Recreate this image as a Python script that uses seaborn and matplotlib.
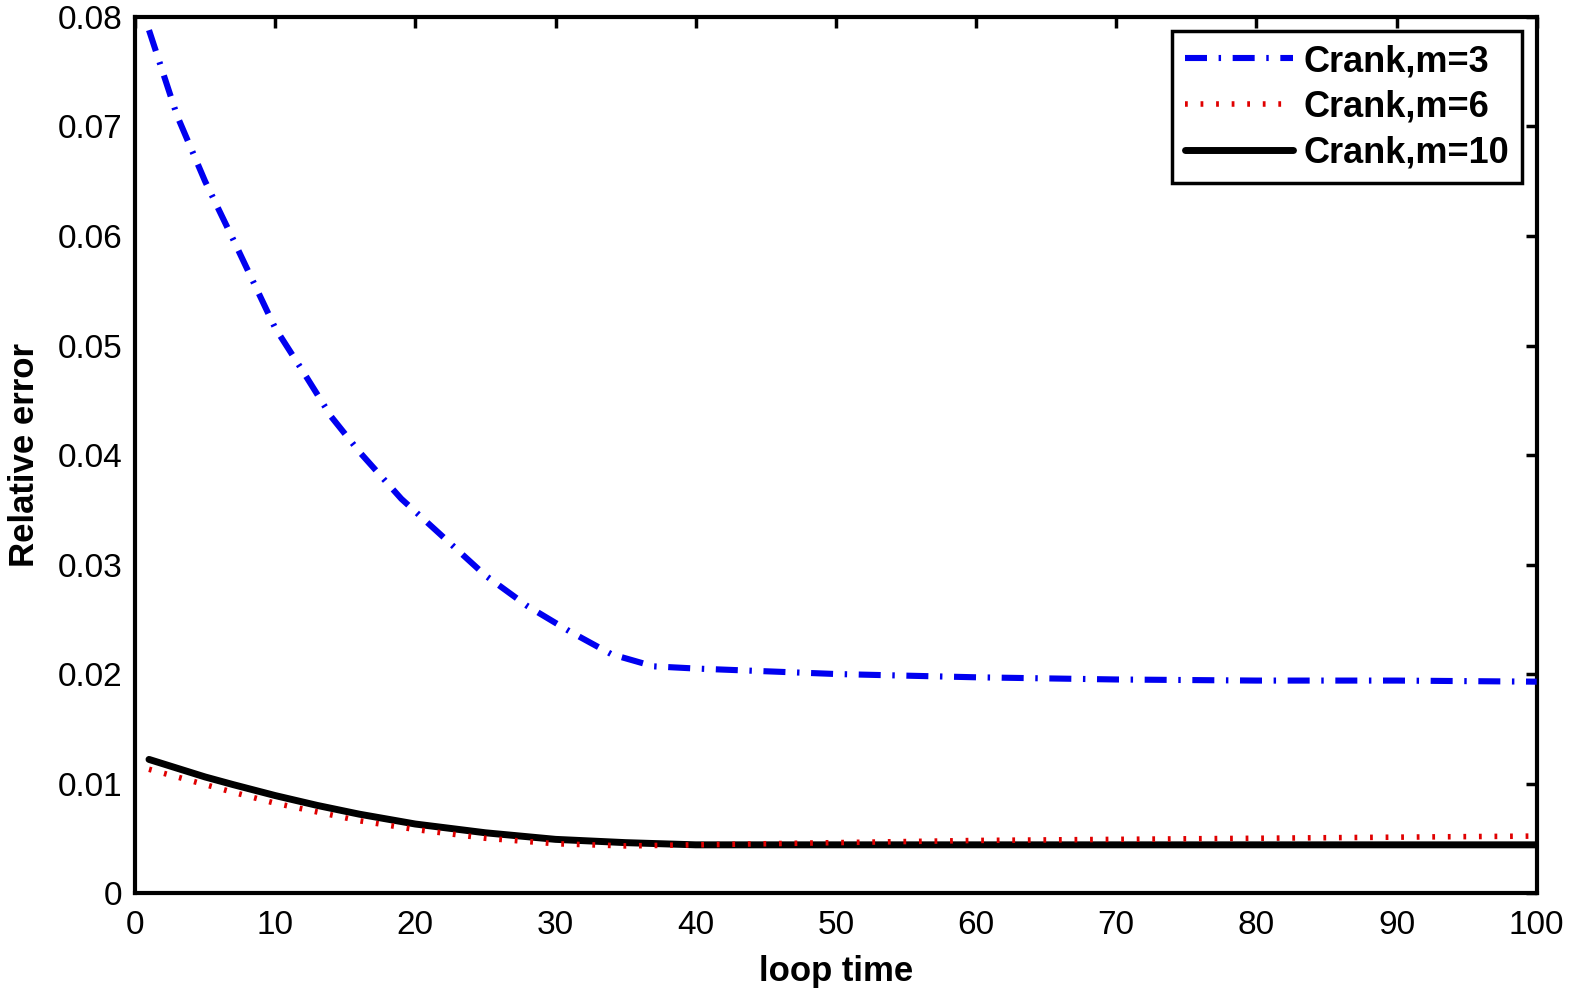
import numpy as np
import pandas as pd
import matplotlib
matplotlib.use("Agg")
import matplotlib.pyplot as plt
import seaborn as sns

# values
x_m3 = [1, 3, 5, 7, 10, 12, 14, 16, 19, 22, 25, 28, 31, 34, 37, 40, 50, 60, 70, 80, 90, 100]
err_m3 = [0.0788, 0.0710, 0.0650, 0.0597, 0.0516, 0.0476, 0.0435, 0.0403, 0.0360, 0.0325,
          0.0290, 0.0262, 0.0239, 0.0218, 0.0207, 0.0205, 0.0200, 0.0197, 0.0195, 0.0194,
          0.0194, 0.0193]

x_m6 = [1, 3, 5, 7, 10, 13, 16, 20, 25, 30, 35, 40, 50, 60, 70, 80, 90, 100]
err_m6 = [0.0113, 0.0106, 0.0099, 0.0092, 0.0082, 0.0074, 0.0066, 0.0058, 0.0050, 0.0045,
          0.0043, 0.0044, 0.0046, 0.0048, 0.0049, 0.0050, 0.0051, 0.0052]

x_m10 = [1, 3, 5, 7, 10, 13, 16, 20, 25, 30, 35, 40, 60, 80, 100]
err_m10 = [0.0122, 0.0114, 0.0106, 0.0099, 0.0089, 0.0080, 0.0072, 0.0063, 0.0055, 0.0049,
           0.0046, 0.0044, 0.0044, 0.0044, 0.0044]

labels = ["Crank,m=3", "Crank,m=6", "Crank,m=10"]

sns.set_style("white")
plt.rcParams["font.family"] = ["Liberation Sans", "DejaVu Sans"]
plt.rcParams["text.color"] = "black"
plt.rcParams["axes.labelcolor"] = "black"

fig = plt.figure(figsize=(15.75, 9.94), dpi=100)
ax = fig.add_axes([0.0857, 0.1016, 0.890, 0.8813])

sns.lineplot(x=x_m10, y=err_m10, ax=ax, color="black", linewidth=5,
             label=labels[2], zorder=2)
sns.lineplot(x=x_m6, y=err_m6, ax=ax, color="#e00000", linewidth=4,
             linestyle=(0, (0.5, 2.3)), label=labels[1], zorder=3)
sns.lineplot(x=x_m3, y=err_m3, ax=ax, color="#0000f0", linewidth=4.4,
             linestyle=(0, (3.6, 1.9, 0.4, 1.9)), label=labels[0], zorder=4)

ax.set_xlim(0, 100)
ax.set_ylim(0, 0.08)
ax.set_xticks(np.arange(0, 101, 10))
ax.set_yticks(np.arange(0, 0.081, 0.01))
ax.set_yticklabels(["0"] + ["%.2f" % v for v in np.arange(0.01, 0.081, 0.01)])

ax.tick_params(direction="in", length=8, width=2.5, top=True, right=True,
               labelsize=24, pad=9, color="black", labelcolor="black")
ax.tick_params(axis="x", pad=12)
for s in ax.spines.values():
    s.set_visible(True)
    s.set_color("black")
    s.set_linewidth(3)

ax.set_xlabel("loop time", fontsize=25, fontweight="bold", labelpad=10, color="black")
ax.set_ylabel("Relative error", fontsize=25, fontweight="bold", labelpad=12, color="black")

handles, labs = ax.get_legend_handles_labels()
order = [2, 1, 0]
leg = ax.legend([handles[i] for i in order], [labs[i] for i in order],
                loc="upper right", fontsize=26, handlelength=3.0,
                borderaxespad=0.4, fancybox=False, framealpha=1,
                edgecolor="black", labelspacing=0.3, handletextpad=0.3,
                borderpad=0.35)
for t in leg.get_texts():
    t.set_fontweight("bold")
    t.set_color("black")
leg.get_frame().set_linewidth(2.5)

fig.savefig("out.png", dpi=100)
